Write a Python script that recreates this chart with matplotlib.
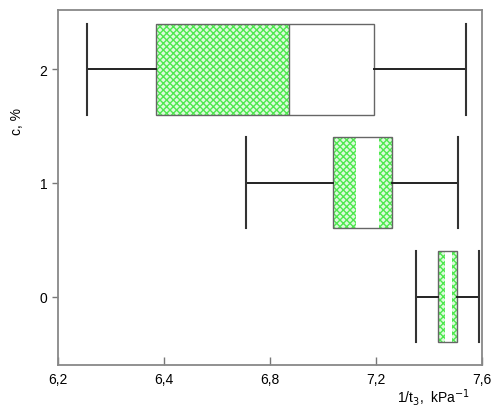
import matplotlib
matplotlib.use("Agg")
import matplotlib.pyplot as plt

plt.rcParams['font.family'] = ['Liberation Sans', 'DejaVu Sans']
plt.rcParams['hatch.linewidth'] = 1.0

# concentration levels, c %
levels = [0, 1, 2]
whis_lo = [7.381, 6.820, 6.296]
q1 = [7.456, 7.108, 6.522]
med = [7.478, 7.184, 6.964]
q3 = [7.519, 7.302, 7.245]
whis_hi = [7.590, 7.522, 7.546]

# green (hatched) parts of each box: (level, start, end)
green_parts = [
    (0, 7.456, 7.478), (0, 7.500, 7.519),
    (1, 7.108, 7.184), (1, 7.259, 7.302),
    (2, 6.522, 6.964),
]

x_ticks = [6.2, 6.55, 6.9, 7.25, 7.6]
x_labels = ['6,2', '6,4', '6,8', '7,2', '7,6']

fig = plt.figure(figsize=(4.94, 4.14), dpi=100)
ax = fig.add_axes([0.1174, 0.116, 0.8583, 0.8574])

stats = []
for i in range(len(levels)):
    stats.append({'whislo': whis_lo[i], 'q1': q1[i], 'med': med[i],
                  'q3': q3[i], 'whishi': whis_hi[i], 'fliers': []})

# green hatched fill first, box outline on top
for lev, a, b in green_parts:
    ax.barh(lev, b - a, left=a, height=0.8, color='#dcfadc', edgecolor='#4ee84e',
            hatch='xxxxx', linewidth=0, zorder=1)

ax.bxp(stats, positions=levels, orientation='horizontal', widths=0.8,
       showfliers=False, patch_artist=True,
       boxprops=dict(facecolor='none', edgecolor='#666666', linewidth=1.0),
       whiskerprops=dict(color='#222222', linewidth=1.4),
       capprops=dict(color='#333333', linewidth=1.5),
       medianprops=dict(linewidth=0),
       capwidths=0.8, zorder=2)

# edge between green and white part of the top box
ax.vlines(med[2], 2 - 0.4, 2 + 0.4, color='#666666', linewidth=1.0, zorder=3)

ax.set_xlim(6.2, 7.6)
ax.set_ylim(-0.6, 2.52)
ax.set_xticks(x_ticks)
ax.set_xticklabels(x_labels)
ax.set_yticks(levels)
ax.set_yticklabels([str(v) for v in levels])
ax.tick_params(axis='x', direction='in', length=6, width=1, color='#777777',
               labelsize=10, pad=5)
ax.tick_params(axis='y', direction='out', length=4, width=1, color='#777777',
               labelsize=10)
for s in ax.spines.values():
    s.set_color('#888888')
    s.set_linewidth(1.3)

ax.set_ylabel('c, %', fontsize=10)
ax.yaxis.set_label_coords(-0.08, 0.69)
fig.text(470 / 494, 1 - 398 / 414, '1/t$_3$,  kPa$^{-1}$', fontsize=10,
         ha='right', va='center')

fig.savefig('out.png', dpi=100)
